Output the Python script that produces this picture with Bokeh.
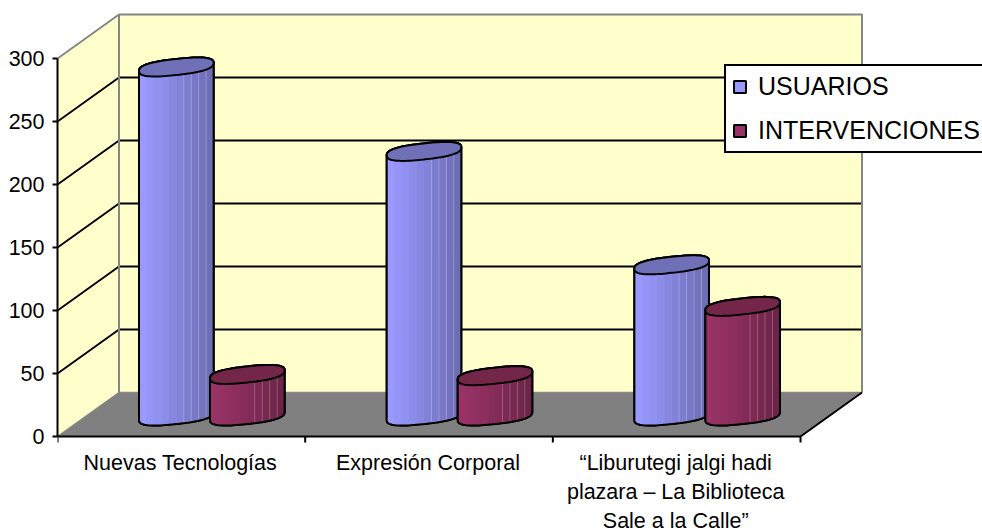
import numpy as np
from bokeh.plotting import figure
from bokeh.models import Range1d, LinearAxis, FixedTicker, Legend, LegendItem
from bokeh.core.properties import value as fixed
from bokeh.embed import file_html
from bokeh.resources import INLINE

# ---- data ----
CATEGORIES = [["Nuevas Tecnologías"], ["Expresión Corporal"],
              ["“Liburutegi jalgi hadi", "plazara – La Biblioteca", "Sale a la Calle”"]]
USUARIOS = [277, 210, 120]
INTERVENCIONES = [33, 32, 87]
SERIES_NAMES = ["USUARIOS", "INTERVENCIONES"]
Y_TICKS = [0, 50, 100, 150, 200, 250, 300]

# ---- layout (screen scale of the axes) ----
W, H = 982, 531
BL = 57                        # left border
ZERO_PX = 436                  # canvas row of value 0
PX_X = 247.67                  # pixels per category
PX_Y = 1.26                    # pixels per value unit
DX, DY = 61.5 / PX_X, 44 / PX_Y  # 3-D depth vector, in data units
LIFT = 20.5 / PX_Y             # floor lift of bar base centres
SHIFT = 30.5 / PX_X            # x offset of bars due to depth
OFF = 35.5 / PX_X              # half-gap between the two bars
RX = 37.3 / PX_X               # cylinder radius in x
RY = 8 / PX_Y                  # cylinder radius in y
SKEW = 4 / PX_Y                # tilt of the ellipses
EXP = 2.6                      # squareness of the ellipses
TICK = 6 / PX_Y                # x tick length
FIRST_LINE = 26 / PX_Y         # first label line centre below the axis
LINE_STEP = 29 / PX_Y          # label line spacing
NCAT = len(CATEGORIES)
YMAX = Y_TICKS[-1]

p = figure(width=W, height=H, output_backend="svg", toolbar_location=None,
           x_range=Range1d(0, (W - BL) / PX_X),
           y_range=Range1d((ZERO_PX - H) / PX_Y, ZERO_PX / PX_Y),
           x_axis_type=None, y_axis_type=None, min_border_left=BL, min_border_bottom=0,
           min_border_right=0, min_border_top=0, outline_line_color=None,
           background_fill_color="white", border_fill_color="white")
p.grid.visible = False

WALL, FLOOR, EDGE = "#FFFFCC", "#808080", "#868686"

# walls and floor
p.patch([0, DX, DX, 0], [0, DY, YMAX + DY, YMAX], fill_color=WALL, line_color=None)
p.patch([DX, NCAT + DX, NCAT + DX, DX], [DY, DY, YMAX + DY, YMAX + DY], fill_color=WALL, line_color=None)
p.patch([0, NCAT, NCAT + DX, DX], [0, 0, DY, DY], fill_color=FLOOR, line_color=None)

# gridlines
for t in Y_TICKS[1:-1]:
    p.line([0, DX, NCAT + DX], [t, t + DY, t + DY], line_color="black", line_width=2)
# wall edges
p.line([0, DX, NCAT + DX, NCAT + DX], [YMAX, YMAX + DY, YMAX + DY, DY], line_color=EDGE, line_width=2)
p.line([DX, DX], [DY, YMAX + DY], line_color=EDGE, line_width=2)
p.line([0, DX, NCAT + DX], [0, DY, DY], line_color=EDGE, line_width=1.5)
p.line([NCAT, NCAT + DX], [0, DY], line_color="black", line_width=2)


def half(u):
    return np.clip(1 - np.abs(u) ** EXP, 0, 1) ** (1 / EXP)


def lower(u, cy):
    return cy - RY * half(u) + SKEW * u


def upper(u, cy):
    return cy + RY * half(u) + SKEW * u


def ramp(c0, c1, f):
    c0 = np.array(c0); c1 = np.array(c1)
    c = c0 + (c1 - c0) * f
    return "#%02x%02x%02x" % tuple(int(round(v)) for v in c)


def cylinder(cx, val, light, dark, top):
    y0 = LIFT
    y1 = LIFT + val
    u = np.cos(np.linspace(np.pi, 0, 41))
    xs = cx + RX * u
    body_x = np.concatenate([xs, xs[::-1]])
    body_y = np.concatenate([lower(u, y0), upper(u[::-1], y1)])
    sil = p.patch(body_x, body_y, fill_color=light, line_color="black", line_width=2)
    edges = np.linspace(-1, 1, 11)
    for i in range(10):
        uu = np.linspace(edges[i], edges[i + 1], 6)
        sx = cx + RX * uu
        p.patch(np.concatenate([sx, sx[::-1]]),
                np.concatenate([lower(uu, y0), lower(uu[::-1], y1)]),
                fill_color=ramp(light, dark, (i / 9) ** 1.1), line_color=None)
    # faint seams between the facets
    for e in edges[6:10]:
        sx = cx + RX * e
        p.line([sx, sx], [lower(e, y0), lower(e, y1)], line_color="#FFFFFF", line_alpha=0.22, line_width=1)
    p.patch(body_x, body_y, fill_color=None, line_color="black", line_width=2)
    tx = cx + RX * u
    p.patch(np.concatenate([tx, tx[::-1]]),
            np.concatenate([lower(u, y1), upper(u[::-1], y1)]),
            fill_color=top, line_color="black", line_width=2)
    return sil


legend_r = {}
for i in range(NCAT):
    c = i + 0.5 + SHIFT
    legend_r.setdefault(0, cylinder(c - OFF, USUARIOS[i], (153, 153, 255), (110, 110, 180), "#7070B8"))
    legend_r.setdefault(1, cylinder(c + OFF, INTERVENCIONES[i], (153, 51, 102), (108, 36, 72), "#732648"))

# value axis
ya = LinearAxis(bounds=(0, YMAX), ticker=FixedTicker(ticks=Y_TICKS))
ya.axis_line_color = "black"; ya.axis_line_width = 2
ya.major_tick_line_color = "black"; ya.major_tick_line_width = 2
ya.major_tick_in = 0; ya.major_tick_out = 5; ya.minor_tick_line_color = None
ya.major_label_text_font = "Liberation Sans"; ya.major_label_text_font_size = "21.5px"
ya.major_label_text_color = "black"; ya.major_label_standoff = 8
p.add_layout(ya, "left")

# category axis drawn at value 0, with its ticks and labels under the floor
p.line([0, NCAT], [0, 0], line_color="black", line_width=2)
bounds = list(range(NCAT + 1))
p.segment(bounds, [0] * len(bounds), bounds, [-TICK] * len(bounds), line_color="black", line_width=2)
for i, lines in enumerate(CATEGORIES):
    for j, line in enumerate(lines):
        p.text([i + 0.5 - 0.004], [-FIRST_LINE - j * LINE_STEP], text=[line], text_align="center",
               text_baseline="middle", text_font=fixed("Liberation Sans"),
               text_font_size="21.5px", text_color="black")

# legend
leg = Legend(items=[LegendItem(label=SERIES_NAMES[0], renderers=[legend_r[0]]),
                    LegendItem(label=SERIES_NAMES[1], renderers=[legend_r[1]])],
             location=(667, 378), margin=0, padding=6, spacing=15,
             glyph_width=15, glyph_height=15, label_standoff=11, label_height=24,
             label_text_font="Liberation Sans", label_text_font_size="25px",
             label_text_color="black", border_line_color="black", border_line_width=2,
             border_line_alpha=1.0,
             background_fill_color="white", background_fill_alpha=1.0)
p.add_layout(leg, "center")

open("out.html", "w").write(file_html(p, INLINE))
